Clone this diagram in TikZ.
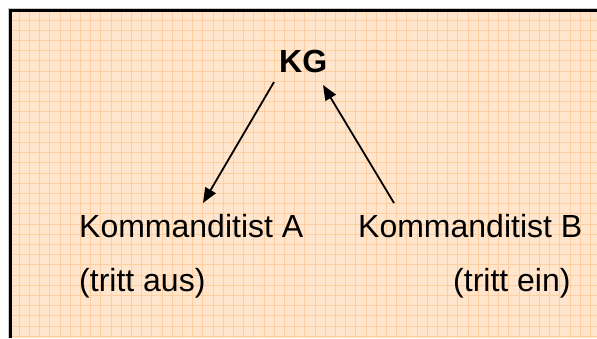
\documentclass[tikz,border=0pt]{standalone}
\usepackage{fontspec}
\setmainfont{Liberation Sans}
\usetikzlibrary{arrows.meta}
\definecolor{paper}{RGB}{255,229,204}
\definecolor{gridline}{RGB}{253,206,160}
\definecolor{edgegrey}{RGB}{200,200,200}
\tikzset{
  label/.style={inner sep=0pt, anchor=base west, font=\fontsize{32}{38}\selectfont},
  title/.style={inner sep=0pt, anchor=base west, font=\fontsize{32}{38}\selectfont\bfseries},
  link/.style={line width=1.8pt, -{Triangle[length=15pt,width=12pt]}},
}
\begin{document}
\begin{tikzpicture}[x=1pt,y=-1pt]
  \useasboundingbox (0,0) rectangle (597,338);
  \fill[white] (0,0) rectangle (597,338);
  % squared paper
  \fill[paper] (10,11) rectangle (597,338);
  \begin{scope}
    \clip (10,11) rectangle (597,338);
    \foreach \i in {1,...,58} {
      \draw[gridline, line width=0.9pt] ({9.1+10.2*\i},11) -- ({9.1+10.2*\i},338);
    }
    \foreach \j in {1,...,32} {
      \draw[gridline, line width=0.9pt] (10,{9.8+10.2*\j}) -- (597,{9.8+10.2*\j});
    }
  \end{scope}
  % frame edges
  \draw[edgegrey, line width=0.8pt] (8.5,338) -- (8.5,8.6) -- (597,8.6);
  \draw[black, line width=2.5pt] (10.5,338) -- (10.5,10.7) -- (597,10.7);
  % labels
  \node[title] (kg) at (279,72) {KG};
  \node[label] (a) at (79,237) {Kommanditist A};
  \node[label] (b) at (358,237) {Kommanditist B};
  \node[label] (aa) at (79,291) {(tritt aus)};
  \node[label] (be) at (453,291) {(tritt ein)};
  % connectors
  \coordinate (kgl) at (274,82);
  \coordinate (atip) at (203,203);
  \coordinate (bfoot) at (394,203);
  \coordinate (kgr) at (323,85);
  \draw[link] (kgl) -- (atip);
  \draw[link] (bfoot) -- (kgr);
\end{tikzpicture}
\end{document}
